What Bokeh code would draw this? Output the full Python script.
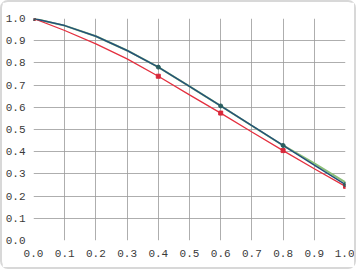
from bokeh.plotting import figure
from bokeh.models import FixedTicker, Range1d, CustomJSTickFormatter
from bokeh.embed import file_html
from bokeh.resources import INLINE

# data
x_line = [0.0, 0.1, 0.2, 0.3, 0.4, 0.5, 0.6, 0.7, 0.8, 0.9, 1.0]
blue_line = [1.0, 0.968, 0.920, 0.856, 0.781, 0.694, 0.606, 0.517, 0.428, 0.340, 0.252]
red_line = [1.0, 0.946, 0.886, 0.818, 0.740, 0.656, 0.574, 0.489, 0.405, 0.323, 0.244]
green_line = [1.0, 0.968, 0.920, 0.856, 0.781, 0.694, 0.606, 0.517, 0.428, 0.347, 0.262]

x_pts = [0.0, 0.4, 0.6, 0.8, 1.0]
blue_pts = [1.0, 0.781, 0.606, 0.428, 0.252]
red_pts = [1.0, 0.740, 0.574, 0.405, 0.244]

ticks = [0.0, 0.1, 0.2, 0.3, 0.4, 0.5, 0.6, 0.7, 0.8, 0.9, 1.0]

p = figure(width=356, height=269, output_backend="svg", toolbar_location=None,
           x_range=Range1d(0, 1), y_range=Range1d(0, 1),
           min_border_left=28, min_border_right=13, min_border_top=16,
           min_border_bottom=31)
p.styles = {"border": "2px solid #d8d8d8", "border-radius": "8px"}
p.outline_line_color = None
p.background_fill_color = "white"

for ax in (p.xaxis[0], p.yaxis[0]):
    ax.ticker = FixedTicker(ticks=ticks)
    ax.formatter = CustomJSTickFormatter(code="return tick.toFixed(1);")
    ax.axis_line_color = None
    ax.major_tick_line_color = None
    ax.minor_tick_line_color = None
    ax.major_tick_out = 0
    ax.major_tick_in = 0
    ax.minor_tick_out = 0
    ax.minor_tick_in = 0
    ax.major_label_text_font = "Liberation Mono"
    ax.major_label_text_font_size = "11px"
    ax.major_label_text_color = "#3a3a3a"
p.xaxis.major_label_standoff = 9
p.yaxis.major_label_standoff = 8

for g in (p.xgrid[0], p.ygrid[0]):
    g.ticker = FixedTicker(ticks=ticks)
    g.grid_line_color = "#9a9a9a"
    g.grid_line_width = 1
    g.grid_line_alpha = 0.8

p.line(x_line, green_line, line_color="#8cc07a", line_width=2)
p.line(x_line, red_line, line_color="#e4303f", line_width=1.3)
p.line(x_line, blue_line, line_color="#24507a", line_width=1.5)
p.scatter(x_pts, red_pts, size=4, marker="square", color="#d8283a")
p.scatter(x_pts, blue_pts, size=4, marker="circle", color="#2a5e60")

open("out.html", "w").write(file_html(p, INLINE))
